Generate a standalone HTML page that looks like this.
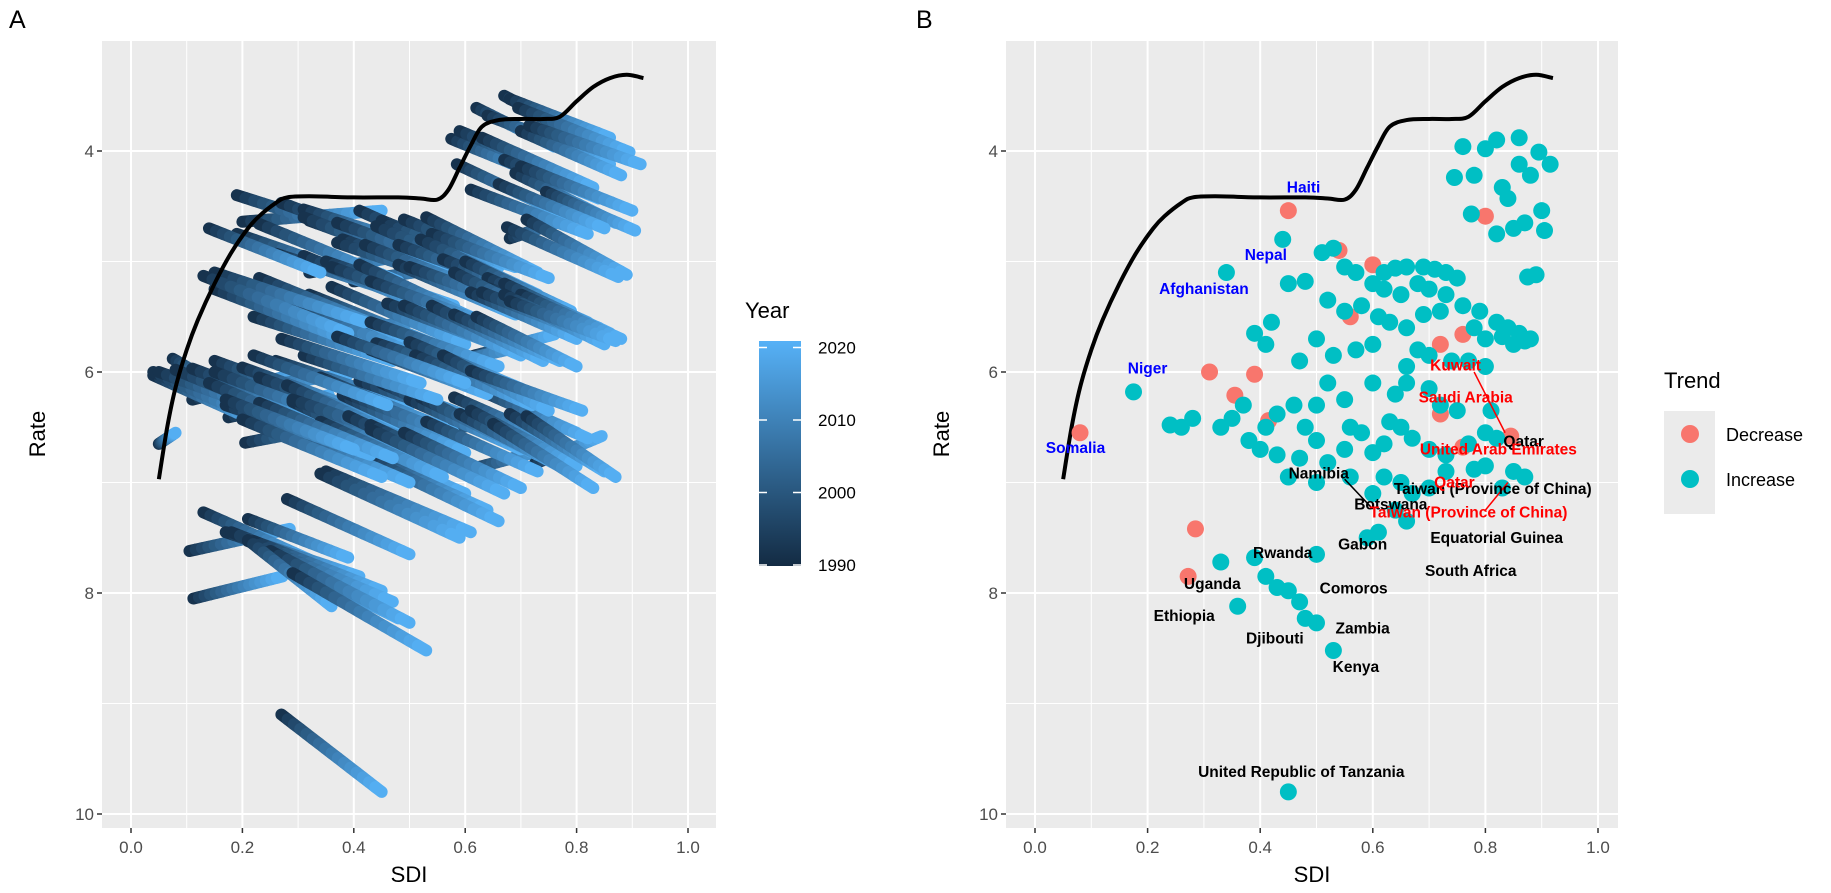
<!DOCTYPE html>
<html><head><meta charset="utf-8"><style>
body{margin:0;background:#fff;}
svg{display:block;font-family:"Liberation Sans",Arial,sans-serif;}
</style></head><body>
<svg id="fig" width="1831" height="893" viewBox="0 0 1831 893" xmlns="http://www.w3.org/2000/svg">
<defs>
<clipPath id="clipA"><rect x="102" y="41" width="614" height="787"/></clipPath>
<clipPath id="clipB"><rect x="1006" y="41" width="612" height="787"/></clipPath>
<linearGradient id="yearGrad" x1="0" y1="1" x2="0" y2="0">
<stop offset="0" stop-color="#132B43"/><stop offset="1" stop-color="#56B1F7"/></linearGradient>
</defs>
<g id="root"></g>
</svg>
<script>
// ---- data ----
const endSdi = [0.45,0.54,0.60,0.80,0.56,0.76,0.72,0.31,0.39,0.355,0.415,0.72,0.08,0.76,0.845,0.285,0.272,
0.76,0.80,0.82,0.86,0.895,0.745,0.78,0.83,0.86,0.88,0.915,0.775,0.82,0.84,0.87,0.90,0.905,0.89,0.875,0.85,
0.44,0.51,0.53,0.55,0.57,0.60,0.62,0.64,0.66,0.69,0.71,0.73,0.75,0.62,0.65,0.68,0.70,0.73,0.76,0.79,0.82,0.84,0.86,0.88,0.45,0.48,0.52,0.55,0.58,0.61,0.63,0.66,0.69,0.72,0.78,0.80,0.83,0.85,0.87,0.60,0.57,0.53,0.50,0.47,0.41,0.42,0.39,0.68,0.70,0.66,0.74,0.77,0.80,0.34,
0.175,0.24,0.26,0.28,0.33,0.35,0.37,0.41,0.43,0.38,0.48,0.50,0.50,0.52,0.55,0.56,0.58,0.60,0.62,0.63,0.65,0.67,0.70,0.73,0.77,0.80,0.82,0.62,0.65,0.67,0.70,0.73,0.78,0.60,0.64,0.66,0.61,0.59,0.50,0.56,0.43,0.47,0.45,0.40,0.64,0.66,0.70,0.72,0.75,0.55,0.60,0.52,0.46,0.80,0.85,0.87,0.83,0.81,
0.33,0.39,0.50,0.41,0.43,0.45,0.47,0.48,0.50,0.36,0.53,0.45];
const endRate = [4.54,4.90,5.03,4.59,5.50,5.66,5.75,6.00,6.02,6.21,6.44,6.38,6.55,6.68,6.58,7.42,7.85,
3.96,3.98,3.90,3.88,4.01,4.24,4.22,4.33,4.12,4.22,4.12,4.57,4.75,4.43,4.65,4.54,4.72,5.12,5.14,4.70,
4.80,4.92,4.88,5.05,5.10,5.20,5.10,5.06,5.05,5.05,5.07,5.10,5.15,5.25,5.30,5.20,5.25,5.30,5.40,5.45,5.55,5.60,5.65,5.70,5.20,5.18,5.35,5.45,5.40,5.50,5.55,5.60,5.48,5.45,5.60,5.70,5.68,5.75,5.72,5.75,5.80,5.85,5.70,5.90,5.75,5.55,5.65,5.80,5.85,5.95,5.90,5.90,5.95,5.10,
6.18,6.48,6.50,6.42,6.50,6.42,6.30,6.50,6.38,6.62,6.50,6.62,6.30,6.82,6.70,6.50,6.55,6.73,6.65,6.45,6.50,6.60,6.70,6.75,6.65,6.55,6.60,6.95,7.00,7.10,7.05,6.90,6.88,7.10,7.25,7.35,7.45,7.50,7.00,6.95,6.75,6.78,6.95,6.70,6.20,6.10,6.15,6.30,6.35,6.25,6.10,6.10,6.30,6.85,6.90,6.95,7.05,6.35,
7.72,7.68,7.65,7.85,7.95,7.98,8.08,8.23,8.27,8.12,8.52,9.80];
const trend = [];
for (let i = 0; i < endSdi.length; i++) trend.push(i < 17 ? 'Decrease' : 'Increase');
// SDI and rate change 1990 -> 2021 per location (estimated)
const sdiGain = [0.25,0.22,0.2,0.12,0.2,0.15,0.18,0.2,0.22,0.18,0.21,0.16,0.03,0.15,0.12,0.18,0.16,
0.14,0.16,0.15,0.18,0.2,0.17,0.19,0.2,0.16,0.18,0.2,0.19,0.21,0.17,0.18,0.2,0.16,0.18,0.2,0.19,
0.25,0.24,0.22,0.23,0.26,0.22,0.25,0.23,0.21,0.24,0.22,0.2,0.21,0.25,0.23,0.24,0.22,0.21,0.2,0.19,0.18,0.2,0.19,0.18,0.26,0.25,0.26,0.24,0.23,0.25,0.22,0.23,0.21,0.22,0.2,0.19,0.2,0.18,0.19,0.24,0.25,0.26,0.27,0.25,0.26,0.27,0.26,0.22,0.21,0.23,0.2,0.19,0.18,0.2,
0.1,0.2,0.22,0.23,0.25,0.24,0.22,0.26,0.23,0.24,0.25,0.22,0.24,0.23,0.26,0.21,0.24,0.22,0.23,0.21,0.24,0.22,0.2,0.21,0.19,0.18,0.2,0.23,0.22,0.24,0.21,0.2,0.19,0.25,0.23,0.24,0.26,0.25,0.24,0.22,0.26,0.24,0.25,0.23,0.21,0.22,0.2,0.21,0.19,0.24,0.23,0.25,0.24,0.19,0.17,0.16,0.18,0.2,
0.2,0.18,0.22,0.24,0.25,0.23,0.26,0.24,0.25,0.15,0.24,0.18];
const rateGain = [-0.1,-0.2,-0.15,-0.2,-0.15,-0.2,-0.2,-0.25,-0.15,-0.2,-0.2,-0.15,-0.1,-0.2,-0.25,-0.2,-0.2,
0.35,0.3,0.4,0.35,0.4,0.35,0.4,0.45,0.3,0.4,0.35,0.45,0.4,0.35,0.45,0.4,0.35,0.5,0.45,0.4,
0.4,0.45,0.35,0.42,0.5,0.4,0.45,0.52,0.42,0.4,0.45,0.5,0.4,0.42,0.45,0.52,0.4,0.5,0.42,0.45,0.4,0.36,0.45,0.4,0.45,0.52,0.42,0.5,0.4,0.45,0.52,0.42,0.45,0.4,0.5,0.42,0.4,0.45,0.36,0.52,0.5,0.45,0.55,0.4,0.5,0.45,0.52,0.42,0.45,0.4,0.5,0.42,0.45,0.4,
0.3,0.45,0.5,0.42,0.52,0.45,0.4,0.5,0.42,0.52,0.45,0.5,0.4,0.55,0.45,0.42,0.5,0.52,0.45,0.4,0.42,0.5,0.45,0.52,0.42,0.4,0.45,0.55,0.52,0.58,0.5,0.45,0.5,0.55,0.52,0.58,0.55,0.58,0.52,0.5,0.45,0.5,0.52,0.45,0.4,0.36,0.42,0.45,0.5,0.4,0.42,0.4,0.45,0.5,0.52,0.55,0.58,0.36,
0.45,0.35,0.5,0.4,0.5,0.45,0.55,0.6,0.65,0.6,0.7,0.7];
const frontierSdi = [0.05,0.065,0.08,0.1,0.12,0.15,0.18,0.21,0.23,0.26,0.28,0.32,0.4,0.48,0.52,0.55,0.57,0.59,0.61,0.63,0.66,0.70,0.74,0.77,0.80,0.83,0.86,0.89,0.92];
const frontierRate = [6.97,6.5,6.14,5.8,5.53,5.2,4.92,4.7,4.59,4.47,4.42,4.41,4.42,4.42,4.43,4.44,4.35,4.15,3.95,3.78,3.72,3.71,3.71,3.69,3.55,3.42,3.34,3.31,3.34];
const xTicks = [0.0,0.2,0.4,0.6,0.8,1.0];
const xTickLabels = ['0.0','0.2','0.4','0.6','0.8','1.0'];
const yTicks = [4,6,8,10];
const yTickLabels = ['4','6','8','10'];
const yearTicks = [2020,2010,2000,1990];
const labelText = ['Haiti','Nepal','Afghanistan','Niger','Somalia','Namibia','Taiwan (Province of China)','Botswana','Gabon','Equatorial Guinea','South Africa','Rwanda','Uganda','Comoros','Ethiopia','Zambia','Djibouti','Kenya','United Republic of Tanzania','Qatar','Kuwait','Saudi Arabia','United Arab Emirates','Qatar','Taiwan (Province of China)'];
const labelSdi = [0.477,0.41,0.30,0.20,0.072,0.504,0.813,0.632,0.582,0.82,0.774,0.44,0.315,0.566,0.265,0.582,0.426,0.57,0.473,0.868,0.747,0.765,0.823,0.745,0.77];
const labelRate = [4.33,4.94,5.25,5.97,6.69,6.92,7.06,7.2,7.56,7.5,7.8,7.64,7.92,7.96,8.21,8.32,8.41,8.67,9.62,6.63,5.94,6.23,6.7,7.0,7.27];
const labelGroup = ['b','b','b','b','b','k','k','k','k','k','k','k','k','k','k','k','k','k','k','k','r','r','r','r','r'];

// ---- scales ----
const xA = s => 131 + s * 557;
const xB = s => 1035 + s * 563;
const yR = r => 151 + (r - 4) * 110.5;
const NS = 'http://www.w3.org/2000/svg';
const root = document.getElementById('root');
function mk(tag, attrs, parent) {
  const e = document.createElementNS(NS, tag);
  for (const k in attrs) e.setAttribute(k, attrs[k]);
  (parent || root).appendChild(e);
  return e;
}
function lerpColor(t) {
  const a = [0x13, 0x2B, 0x43], b = [0x56, 0xB1, 0xF7];
  return 'rgb(' + a.map((v, i) => Math.round(v + (b[i] - v) * t)).join(',') + ')';
}
function panel(x0, x1, xs, tag, tagX) {
  const g = mk('g', {});
  
  
  const bg = mk('rect', {x: x0, y: 41, width: x1 - x0, height: 787, fill: '#ebebeb'}, g);
  
  
  for (let v = 0.1; v < 1.0; v += 0.2) mk('line', {x1: xs(v), x2: xs(v), y1: 41, y2: 828, stroke: '#fff', 'stroke-width': 1}, g);
  for (let r = 3; r <= 9; r += 2) mk('line', {x1: x0, x2: x1, y1: yR(r), y2: yR(r), stroke: '#fff', 'stroke-width': 1}, g);
  xTicks.forEach((v, i) => {
    mk('line', {x1: xs(v), x2: xs(v), y1: 41, y2: 828, stroke: '#fff', 'stroke-width': 2}, g);
    mk('line', {x1: xs(v), x2: xs(v), y1: 828, y2: 833, stroke: '#333', 'stroke-width': 1.5}, g);
    const t = mk('text', {x: xs(v), y: 853, 'text-anchor': 'middle', 'font-size': 17, fill: '#4d4d4d'}, g);
    t.textContent = xTickLabels[i];
    
    
  });
  yTicks.forEach((v, i) => {
    mk('line', {x1: x0, x2: x1, y1: yR(v), y2: yR(v), stroke: '#fff', 'stroke-width': 2}, g);
    mk('line', {x1: x0 - 5, x2: x0, y1: yR(v), y2: yR(v), stroke: '#333', 'stroke-width': 1.5}, g);
    const t = mk('text', {x: x0 - 8, y: yR(v) + 6, 'text-anchor': 'end', 'font-size': 17, fill: '#4d4d4d'}, g);
    t.textContent = yTickLabels[i];
    
    
  });
  const xt = mk('text', {x: (x0 + x1) / 2, y: 882, 'text-anchor': 'middle', 'font-size': 22, fill: '#000'}, g);
  xt.textContent = 'SDI';
  
  
  const yt = mk('text', {x: 0, y: 0, 'text-anchor': 'middle', 'font-size': 22, fill: '#000', transform: 'translate(' + (x0 - 57) + ',434) rotate(-90)'}, g);
  yt.textContent = 'Rate';
  
  
  const pt = mk('text', {x: tagX, y: 28, 'font-size': 25, fill: '#000'}, g);
  pt.textContent = tag;
  
  
}
function frontier(xs, clip) {
  const P = frontierSdi.map((s, i) => [xs(s), yR(frontierRate[i])]);
  let d = 'M' + P[0][0] + ',' + P[0][1];
  for (let i = 0; i < P.length - 1; i++) {
    const p0 = P[Math.max(0, i - 1)], p1 = P[i], p2 = P[i + 1], p3 = P[Math.min(P.length - 1, i + 2)];
    const c1 = [p1[0] + (p2[0] - p0[0]) / 6, p1[1] + (p2[1] - p0[1]) / 6];
    const c2 = [p2[0] - (p3[0] - p1[0]) / 6, p2[1] - (p3[1] - p1[1]) / 6];
    d += ' C' + c1 + ' ' + c2 + ' ' + p2;
  }
  const path = mk('path', {d: d, fill: 'none', stroke: '#000', 'stroke-width': 4, 'clip-path': clip});
  
  
}

// ---- Panel A ----
panel(102, 716, xA, 'A', 9);
const gA = mk('g', {'clip-path': 'url(#clipA)'});


const N = 16;
for (let i = 0; i < endSdi.length; i++) {
  const sg = sdiGain[i] !== undefined ? sdiGain[i] : 0.2;
  const rg = rateGain[i] !== undefined ? rateGain[i] : 0.45;
  const s0 = endSdi[i] - sg, r0 = endRate[i] - rg;
  const tr = mk('g', {}, gA);
  
  
  for (let k = 0; k < N; k++) {
    const a = k / N, b = (k + 1) / N;
    mk('line', {x1: xA(s0 + sg * a), y1: yR(r0 + rg * a), x2: xA(s0 + sg * b), y2: yR(r0 + rg * b),
      stroke: lerpColor(Math.pow((a + b) / 2, 0.8)), 'stroke-width': 12, 'stroke-linecap': 'round'}, tr);
  }
}
frontier(xA, 'url(#clipA)');
// Year legend
const lgA = mk('g', {});


const yl = mk('text', {x: 745, y: 318, 'font-size': 22, fill: '#000'}, lgA);
yl.textContent = 'Year';
const bar = mk('rect', {x: 759, y: 341, width: 42, height: 225, fill: 'url(#yearGrad)'}, lgA);


const yearY = yr => 565 - (yr - 1990) * 7.25;
yearTicks.forEach(yr => {
  mk('line', {x1: 759, x2: 767, y1: yearY(yr), y2: yearY(yr), stroke: '#fff', 'stroke-width': 1.5}, lgA);
  mk('line', {x1: 793, x2: 801, y1: yearY(yr), y2: yearY(yr), stroke: '#fff', 'stroke-width': 1.5}, lgA);
  const t = mk('text', {x: 818, y: yearY(yr) + 6, 'font-size': 17, fill: '#000'}, lgA);
  t.textContent = yr;
});

// ---- Panel B ----
panel(1006, 1618, xB, 'B', 916);
frontier(xB, 'url(#clipB)');
const gB = mk('g', {'clip-path': 'url(#clipB)'});


for (let i = 0; i < endSdi.length; i++) {
  const c = mk('circle', {cx: xB(endSdi[i]), cy: yR(endRate[i]), r: 8.5, fill: trend[i] === 'Decrease' ? '#F8766D' : '#00BFC4'}, gB);
  
  
}
[[0.78, 6.0, 0.835, 6.55, '#ff0000'], [0.55, 6.97, 0.6, 7.24, '#000'], [0.84, 7.0, 0.8, 7.25, '#ff0000']].forEach(l => {
  const s = mk('line', {x1: xB(l[0]), y1: yR(l[1]), x2: xB(l[2]), y2: yR(l[3]), stroke: l[4], 'stroke-width': 1.5}, gB);
  
  
});
const gL = mk('g', {});


labelText.forEach((txt, i) => {
  const col = labelGroup[i] === 'b' ? '#0000ff' : (labelGroup[i] === 'r' ? '#ff0000' : '#000');
  const t = mk('text', {x: xB(labelSdi[i]), y: yR(labelRate[i]) + 5, 'text-anchor': 'middle', 'font-size': 15.5, 'font-weight': 'bold', fill: col}, gL);
  t.textContent = txt;
  
  
});
// Trend legend
const lgB = mk('g', {});


const tl = mk('text', {x: 1664, y: 388, 'font-size': 22, fill: '#000'}, lgB);
tl.textContent = 'Trend';
mk('rect', {x: 1664, y: 411, width: 51, height: 103, fill: '#ebebeb'}, lgB);
[['Decrease', '#F8766D', 434], ['Increase', '#00BFC4', 479]].forEach(e => {
  const it = mk('g', {}, lgB);
  
  
  mk('circle', {cx: 1690, cy: e[2], r: 9, fill: e[1]}, it);
  const t = mk('text', {x: 1726, y: e[2] + 7, 'font-size': 18, fill: '#000'}, it);
  t.textContent = e[0];
});
</script>
</body></html>
